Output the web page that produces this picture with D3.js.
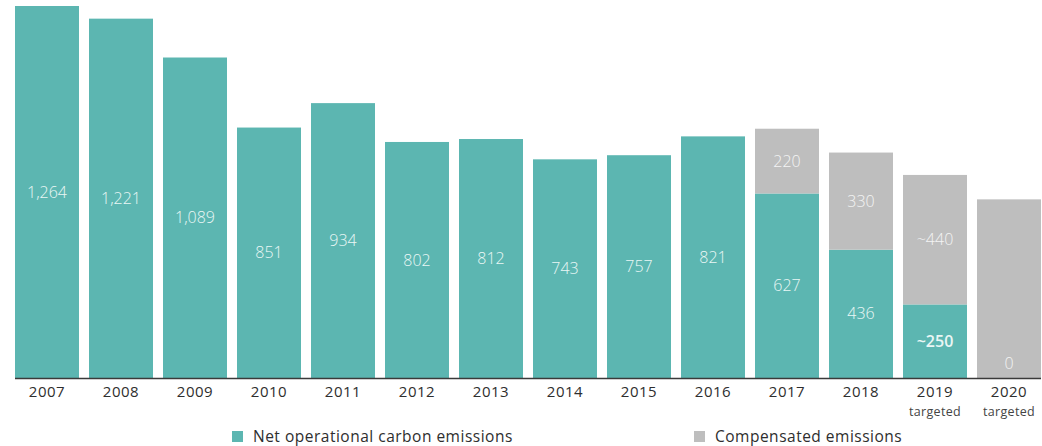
<!DOCTYPE html>
<html>
<head>
<meta charset="utf-8">
<script src="https://cdn.jsdelivr.net/npm/d3@7"></script>
<style>
  body { margin: 0; background: #fff; }
  svg { display: block; font-family: "Open Sans", sans-serif; }
</style>
</head>
<body>
<div id="chart"></div>
<script>
const years = ["2007", "2008", "2009", "2010", "2011", "2012", "2013", "2014", "2015", "2016", "2017", "2018", "2019", "2020"];
const subLabels = ["", "", "", "", "", "", "", "", "", "", "", "", "targeted", "targeted"];
const netEmissions = [1264, 1221, 1089, 851, 934, 802, 812, 743, 757, 821, 627, 436, 250, 0];
const compensated = [0, 0, 0, 0, 0, 0, 0, 0, 0, 0, 220, 330, 440, 607];
const netLabels = ["1,264", "1,221", "1,089", "851", "934", "802", "812", "743", "757", "821", "627", "436", "~250", "0"];
const compLabels = ["", "", "", "", "", "", "", "", "", "", "220", "330", "~440", ""];
const seriesNames = ["Net operational carbon emissions", "Compensated emissions"];

const width = 1042, height = 446;
const teal = "#5cb6b1", grey = "#bebebe";

const svg = d3.select("#chart").append("svg")
  .attr("width", width)
  .attr("height", height);

const x = d3.scaleBand()
  .domain(years)
  .range([5, 1051])
  .paddingInner(10 / 74)
  .paddingOuter(10 / 74);

const y = d3.scaleLinear()
  .domain([0, 1264])
  .range([378, 6]);

// net bars
svg.selectAll(".net")
  .data(years)
  .enter()
  .append("rect")
  .attr("class", "net")
  .attr("x", d => x(d))
  .attr("width", x.bandwidth())
  .attr("y", (d, i) => y(netEmissions[i]))
  .attr("height", (d, i) => y(0) - y(netEmissions[i]))
  .style("fill", teal);

// compensated bars stacked on top
svg.selectAll(".comp")
  .data(years)
  .enter()
  .append("rect")
  .attr("class", "comp")
  .attr("x", d => x(d))
  .attr("width", x.bandwidth())
  .attr("y", (d, i) => y(netEmissions[i] + compensated[i]))
  .attr("height", (d, i) => y(netEmissions[i]) - y(netEmissions[i] + compensated[i]))
  .style("fill", grey);

// value labels
svg.selectAll(".netLabel")
  .data(years)
  .enter()
  .append("text")
  .attr("class", "netLabel")
  .attr("x", d => x(d) + x.bandwidth() / 2)
  .attr("y", (d, i) => netEmissions[i] > 0 ? (y(0) + y(netEmissions[i])) / 2 : y(0) - 15)
  .attr("dy", "0.35em")
  .attr("text-anchor", "middle")
  .style("font-size", "16px")
  .style("font-weight", (d, i) => netLabels[i].startsWith("~") ? 600 : 300)
  .style("fill", (d, i) => netEmissions[i] > 0 ? "#eaf6f5" : "#f4f4f4")
  .text((d, i) => netLabels[i]);

svg.selectAll(".compLabel")
  .data(years)
  .enter()
  .append("text")
  .attr("class", "compLabel")
  .attr("x", d => x(d) + x.bandwidth() / 2)
  .attr("y", (d, i) => (y(netEmissions[i]) + y(netEmissions[i] + compensated[i])) / 2)
  .attr("dy", "0.35em")
  .attr("text-anchor", "middle")
  .style("font-size", "16px")
  .style("font-weight", 300)
  .style("fill", "#f4f4f4")
  .text((d, i) => compLabels[i]);

// baseline
svg.append("line")
  .attr("x1", x(years[0]))
  .attr("x2", x(years[years.length - 1]) + x.bandwidth())
  .attr("y1", y(0) + 0.5)
  .attr("y2", y(0) + 0.5)
  .style("stroke", "#3a3a3a")
  .style("stroke-width", 1.5);

// x axis labels
const xAxis = d3.axisBottom(x).tickSize(0).tickPadding(0);
const gx = svg.append("g")
  .attr("transform", `translate(0,${y(0)})`)
  .call(xAxis);
gx.select(".domain").remove();
gx.selectAll("text")
  .attr("dy", null)
  .attr("y", 19)
  .style("font-family", "Open Sans, sans-serif")
  .style("font-size", "15px")
  .style("letter-spacing", "0.5px")
  .style("fill", "#2e2e2e");

svg.selectAll(".subLabel")
  .data(years)
  .enter()
  .append("text")
  .attr("class", "subLabel")
  .attr("x", d => x(d) + x.bandwidth() / 2)
  .attr("y", 415.5)
  .attr("text-anchor", "middle")
  .style("font-size", "12.5px")
  .style("letter-spacing", "0.3px")
  .style("fill", "#444")
  .text((d, i) => subLabels[i]);

// legend
const legendX = [232, 694];
const legendColors = [teal, grey];
const legend = svg.selectAll(".legend")
  .data(seriesNames)
  .enter()
  .append("g")
  .attr("class", "legend")
  .attr("transform", (d, i) => `translate(${legendX[i]},431)`);

legend.append("rect")
  .attr("width", 11)
  .attr("height", 11)
  .style("fill", (d, i) => legendColors[i]);

legend.append("text")
  .attr("x", 21)
  .attr("y", 10.5)
  .style("font-size", "15.5px")
  .style("letter-spacing", "0.5px")
  .style("fill", "#2e2e2e")
  .text(d => d);
</script>
</body>
</html>
